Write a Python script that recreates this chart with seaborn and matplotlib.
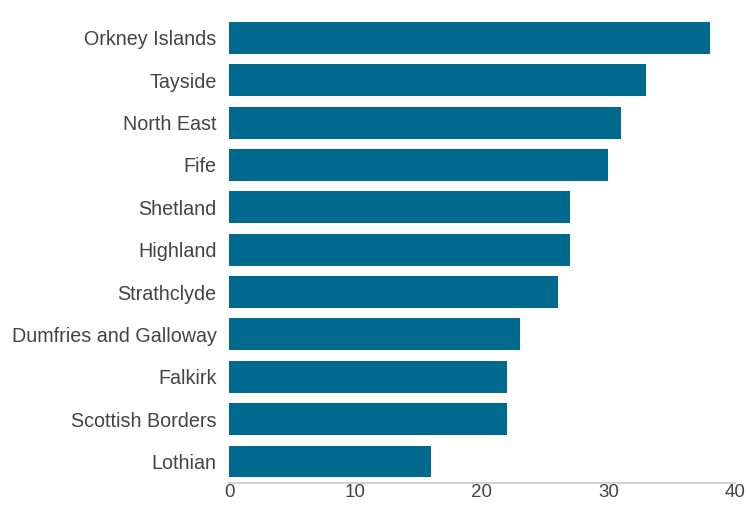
import matplotlib
matplotlib.use("Agg")
import matplotlib.pyplot as plt
import seaborn as sns
import pandas as pd

regions = ['Orkney Islands', 'Tayside', 'North East', 'Fife', 'Shetland', 'Highland',
           'Strathclyde', 'Dumfries and Galloway', 'Falkirk', 'Scottish Borders', 'Lothian']
values = [38, 33, 31, 30, 27, 27, 26, 23, 22, 22, 16]
x_ticks = [0, 10, 20, 30, 40]

df = pd.DataFrame({'Region': regions, 'Value': values})

sns.set_style('white')
plt.rcParams['font.family'] = ['Liberation Sans', 'DejaVu Sans']

fig = plt.figure(figsize=(7.46, 5.08), dpi=100)
ax = fig.add_axes([0.307, 0.05, 0.678, 0.917])
sns.barplot(data=df, x='Value', y='Region', color='#006a8e', width=0.75,
            saturation=1, linewidth=0, ax=ax)

ax.set_xlim(0, 40)
ax.set_ylim(len(regions) - 0.5, -0.5)
ax.set_xticks(x_ticks)
ax.set_xlabel('')
ax.set_ylabel('')
ax.tick_params(axis='both', length=0, colors='#444444', labelsize=14.2)
ax.tick_params(axis='x', labelsize=13.5, pad=1)
ax.tick_params(axis='y', pad=9)
for side in ['top', 'right', 'left']:
    ax.spines[side].set_visible(False)
ax.spines['bottom'].set_color('#cccccc')
ax.spines['bottom'].set_linewidth(1.2)

fig.savefig('out.png', dpi=100)
